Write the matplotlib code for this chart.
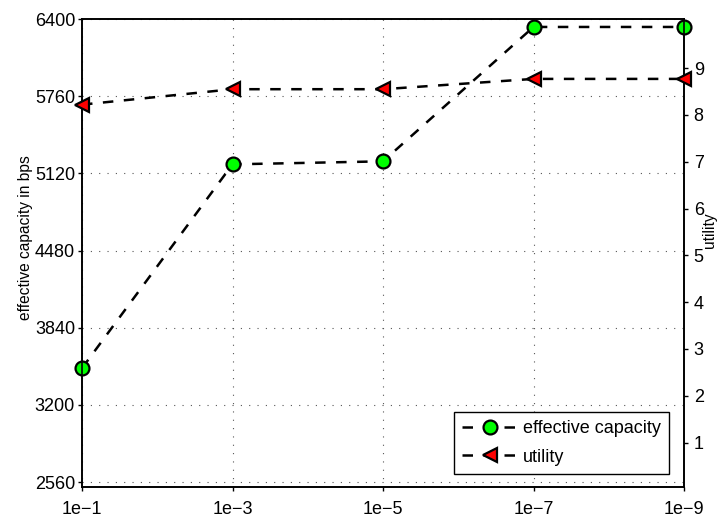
import matplotlib
matplotlib.use("Agg")
import matplotlib.pyplot as plt
from matplotlib.lines import Line2D

plt.rcParams['font.family'] = ['Liberation Sans', 'DejaVu Sans']

x_labels = ['1e\u22121', '1e\u22123', '1e\u22125', '1e\u22127', '1e\u22129']
capacity = [3505, 5195, 5220, 6334, 6334]
utility = [8.22, 8.55, 8.55, 8.77, 8.77]
left_ticks = [2560, 3200, 3840, 4480, 5120, 5760, 6400]
right_ticks = [1, 2, 3, 4, 5, 6, 7, 8, 9]

xs = list(range(len(x_labels)))

W, H = 722, 519
fig = plt.figure(figsize=(W/100, H/100), dpi=100)
ax = fig.add_axes([82/W, 1 - 487/H, (684-82)/W, (487-19)/H])
ax2 = ax.twinx()

dash = (0, (4.2, 4.2))
lw = 1.8
ax.plot(xs, capacity, linestyle=dash, color='black', lw=lw,
        marker='o', markersize=10, markerfacecolor='#00ff00',
        markeredgecolor='black', markeredgewidth=1.6, clip_on=False, zorder=5)
ax2.plot(xs, utility, linestyle=dash, color='black', lw=lw,
         marker='<', markersize=10.5, markerfacecolor='#ff0000',
         markeredgecolor='black', markeredgewidth=1.6, clip_on=False, zorder=5)

ax.set_xlim(0, 4)
ax.set_ylim(2520, 6400)
ax.set_yticks(left_ticks)
ax.set_xticks(xs)
ax.set_xticklabels(x_labels)
ax2.set_ylim(0.05, 10.05)
ax2.set_yticks(right_ticks)

ax.grid(True, linestyle=(0, (1, 6.5)), color='#555555', lw=0.8)
ax.set_axisbelow(True)

for a in (ax, ax2):
    a.tick_params(labelsize=13, direction='out', length=3, width=1, colors='black')
    for s in a.spines.values():
        s.set_linewidth(1.2)
ax.tick_params(axis='x', pad=7)
ax.tick_params(axis='y', pad=2)
ax2.tick_params(axis='y', pad=4)

ax.set_ylabel('effective capacity in bps', fontsize=11.2)
ax.yaxis.set_label_coords(-0.081, 0.532)
ax2.set_ylabel('utility', fontsize=11.2)
ax2.yaxis.set_label_coords(1.030, 0.549)

handles = [
    Line2D([], [], linestyle=dash, color='black', lw=lw, marker='o',
           markersize=10, markerfacecolor='#00ff00', markeredgecolor='black', markeredgewidth=1.6),
    Line2D([], [], linestyle=dash, color='black', lw=lw, marker='<',
           markersize=10.5, markerfacecolor='#ff0000', markeredgecolor='black', markeredgewidth=1.6),
]
leg = ax2.legend(handles, ['effective capacity', 'utility'], loc='lower right',
                 bbox_to_anchor=(0.975, 0.028), borderaxespad=0, fontsize=13,
                 frameon=True, fancybox=False, edgecolor='black', framealpha=1,
                 handlelength=3.0, handletextpad=0.35, borderpad=0.45,
                 labelspacing=0.65)
leg.get_frame().set_linewidth(1.0)

fig.savefig('out.png', dpi=100)
